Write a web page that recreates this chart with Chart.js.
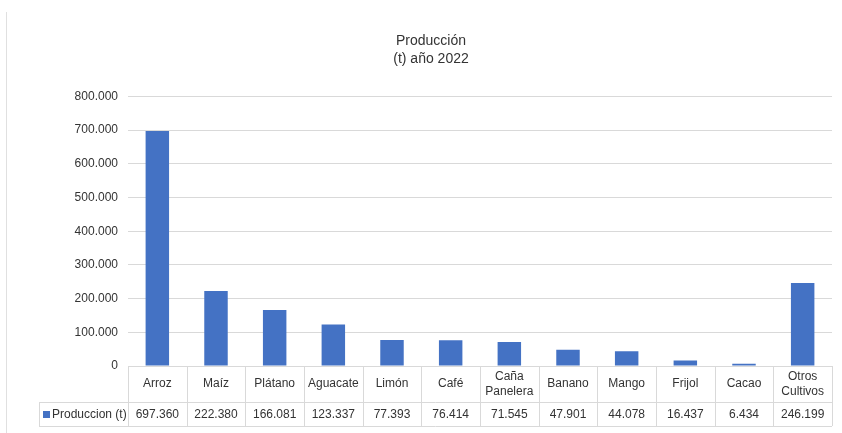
<!DOCTYPE html>
<html>
<head>
<meta charset="utf-8">
<script src="https://cdn.jsdelivr.net/npm/chart.js@4"></script>
<style>
  html, body { margin: 0; padding: 0; background: #ffffff; }
  #wrap { position: relative; width: 842px; height: 433px; }
</style>
</head>
<body>
<div id="wrap"><canvas id="c" width="842" height="433"></canvas></div>
<script>
const categories = ['Arroz', 'Maíz', 'Plátano', 'Aguacate', 'Limón', 'Café', ['Caña', 'Panelera'], 'Banano', 'Mango', 'Frijol', 'Cacao', ['Otros', 'Cultivos']];
const produccion = [697360, 222380, 166081, 123337, 77393, 76414, 71545, 47901, 44078, 16437, 6434, 246199];
const seriesName = 'Produccion (t)';
const titleLines = ['Producción', '(t) año 2022'];

function fmt(v) {
  return String(Math.round(v)).replace(/\B(?=(\d{3})+(?!\d))/g, '.');
}

const FONT = '"Liberation Sans", Arial, sans-serif';
const TXT = '#333333';
const LINE = '#d9d9d9';

const tablePlugin = {
  id: 'dataTable',
  afterDraw(chart) {
    const ctx = chart.ctx;
    const x = chart.scales.x;
    const area = chart.chartArea;
    const n = categories.length;
    const top = area.bottom;
    const mid = top + 36;
    const bot = top + 60;
    const legLeft = 39;
    const step = (area.right - area.left) / n;
    ctx.save();
    ctx.strokeStyle = '#e0e0e0';
    ctx.lineWidth = 1;
    ctx.beginPath();
    ctx.moveTo(6.5, 12);
    ctx.lineTo(6.5, 433);
    ctx.stroke();

    ctx.strokeStyle = LINE;
    ctx.beginPath();
    ctx.moveTo(area.left, top + 0.5); ctx.lineTo(area.right, top + 0.5);
    ctx.moveTo(legLeft, mid + 0.5); ctx.lineTo(area.right, mid + 0.5);
    ctx.moveTo(legLeft, bot + 0.5); ctx.lineTo(area.right, bot + 0.5);
    ctx.moveTo(legLeft + 0.5, mid); ctx.lineTo(legLeft + 0.5, bot);
    for (let i = 0; i <= n; i++) {
      const px = Math.round(area.left + i * step) + 0.5;
      ctx.moveTo(px, top); ctx.lineTo(px, bot);
    }
    ctx.stroke();

    ctx.fillStyle = TXT;
    ctx.font = '12px ' + FONT;
    ctx.textAlign = 'center';
    ctx.textBaseline = 'middle';
    const ds = chart.data.datasets[0];
    for (let i = 0; i < n; i++) {
      const cx = x.getPixelForValue(i);
      const lab = categories[i];
      if (Array.isArray(lab)) {
        ctx.fillText(lab[0], cx, top + 11);
        ctx.fillText(lab[1], cx, top + 26);
      } else {
        ctx.fillText(lab, cx, top + 18);
      }
      ctx.fillText(fmt(ds.data[i]), cx, mid + 12.5);
    }
    ctx.fillStyle = ds.backgroundColor;
    ctx.fillRect(43, mid + 9, 7, 7);
    ctx.fillStyle = TXT;
    ctx.textAlign = 'left';
    ctx.fillText(ds.label, 52, mid + 12.5);
    ctx.restore();
  }
};

new Chart(document.getElementById('c'), {
  type: 'bar',
  data: {
    labels: categories,
    datasets: [{
      label: seriesName,
      data: produccion,
      backgroundColor: '#4472C4',
      barPercentage: 0.5,
      categoryPercentage: 0.8
    }]
  },
  options: {
    responsive: false,
    animation: false,
    devicePixelRatio: 1,
    layout: { padding: { left: 30, right: 10, top: 0, bottom: 67 } },
    plugins: {
      legend: { display: false },
      tooltip: { enabled: false },
      title: {
        display: true,
        text: titleLines,
        color: TXT,
        font: { family: FONT, size: 14, weight: 'normal', lineHeight: 1.3 },
        padding: { top: 32, bottom: 28 }
      }
    },
    scales: {
      x: { display: false },
      y: {
        min: 0,
        max: 800000,
        afterFit(scale) { scale.width = 98; },
        border: { display: false },
        grid: { color: LINE, drawTicks: false, lineWidth: 1 },
        ticks: {
          stepSize: 100000,
          padding: 10,
          color: TXT,
          font: { family: FONT, size: 12 },
          callback: (v) => fmt(v)
        }
      }
    }
  },
  plugins: [tablePlugin]
});
</script>
</body>
</html>
